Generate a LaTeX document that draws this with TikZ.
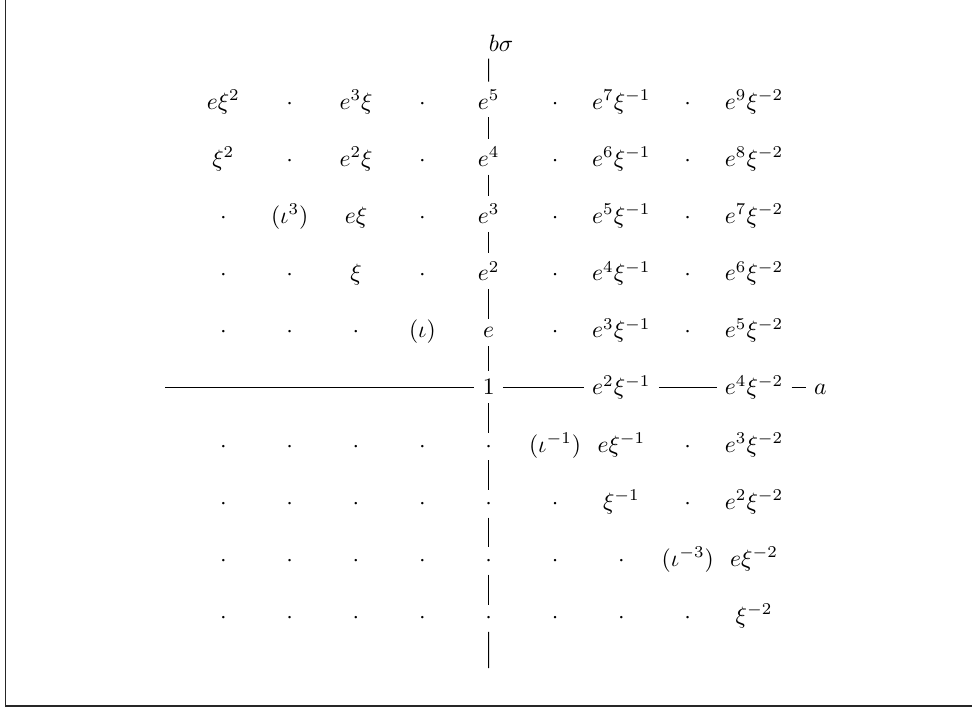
\documentclass[tikz,border=0pt]{standalone}
\begin{document}
\begin{tikzpicture}[x=0.4237pt,y=-0.4237pt,
  cell/.style={anchor=base},
  link/.style={draw=black,line width=0.4pt},
  frameline/.style={draw=black!85,line width=0.65pt}]
\useasboundingbox (0,0) rectangle (972,709);
% frame (left and bottom edges)
\coordinate (ftop) at (5.5,0);
\coordinate (fcorner) at (5.5,706);
\coordinate (fright) at (972,706);
\draw[frameline] (ftop) -- (fcorner) -- (fright);
% grid cells
\foreach \r/\c/\t in {
  1/0/{e\xi^2},1/1/{\cdot},1/2/{e^3\xi},1/3/{\cdot},1/4/{e^5},1/5/{\cdot},1/6/{e^7\xi^{-1}},1/7/{\cdot},1/8/{e^9\xi^{-2}},
  2/0/{\xi^2},2/1/{\cdot},2/2/{e^2\xi},2/3/{\cdot},2/4/{e^4},2/5/{\cdot},2/6/{e^6\xi^{-1}},2/7/{\cdot},2/8/{e^8\xi^{-2}},
  3/0/{\cdot},3/1/{(\iota^3)},3/2/{e\xi},3/3/{\cdot},3/4/{e^3},3/5/{\cdot},3/6/{e^5\xi^{-1}},3/7/{\cdot},3/8/{e^7\xi^{-2}},
  4/0/{\cdot},4/1/{\cdot},4/2/{\xi},4/3/{\cdot},4/4/{e^2},4/5/{\cdot},4/6/{e^4\xi^{-1}},4/7/{\cdot},4/8/{e^6\xi^{-2}},
  5/0/{\cdot},5/1/{\cdot},5/2/{\cdot},5/3/{(\iota)},5/4/{e},5/5/{\cdot},5/6/{e^3\xi^{-1}},5/7/{\cdot},5/8/{e^5\xi^{-2}},
  6/4/{1},6/6/{e^2\xi^{-1}},6/8/{e^4\xi^{-2}},6/9/{a},
  7/0/{\cdot},7/1/{\cdot},7/2/{\cdot},7/3/{\cdot},7/4/{\cdot},7/5/{(\iota^{-1})},7/6/{e\xi^{-1}},7/7/{\cdot},7/8/{e^3\xi^{-2}},
  8/0/{\cdot},8/1/{\cdot},8/2/{\cdot},8/3/{\cdot},8/4/{\cdot},8/5/{\cdot},8/6/{\xi^{-1}},8/7/{\cdot},8/8/{e^2\xi^{-2}},
  9/0/{\cdot},9/1/{\cdot},9/2/{\cdot},9/3/{\cdot},9/4/{\cdot},9/5/{\cdot},9/6/{\cdot},9/7/{(\iota^{-3})},9/8/{e\xi^{-2}},
  10/0/{\cdot},10/1/{\cdot},10/2/{\cdot},10/3/{\cdot},10/4/{\cdot},10/5/{\cdot},10/6/{\cdot},10/7/{\cdot},10/8/{\xi^{-2}}}
  \node[cell] (n-\r-\c) at ({223.3+66.35*\c},{109.1+57.15*(\r-1)}) {$\t$};
% top label
\node[anchor=base west,inner sep=0pt] (bs) at (488.3,51) {$b\sigma$};
\coordinate (vtop) at (488.7,58.5);
\coordinate (vbot) at (488.7,668);
\coordinate (hleft) at (165,0);
% vertical axis
\draw[link] (vtop) -- (n-1-4.north);
\foreach \r [evaluate=\r as \s using int(\r+1)] in {1,...,9}
  \draw[link] (n-\r-4.south) -- (n-\s-4.north);
\draw[link] (n-10-4.south) -- (vbot);
% horizontal axis
\draw[link] (n-6-4 -| hleft) -- (n-6-4.west);
\draw[link] (n-6-4.east) -- (n-6-6.west |- n-6-4);
\draw[link] (n-6-6.east |- n-6-4) -- (n-6-8.west |- n-6-4);
\draw[link] (n-6-8.east |- n-6-4) -- (n-6-9.west |- n-6-4);
\end{tikzpicture}
\end{document}
